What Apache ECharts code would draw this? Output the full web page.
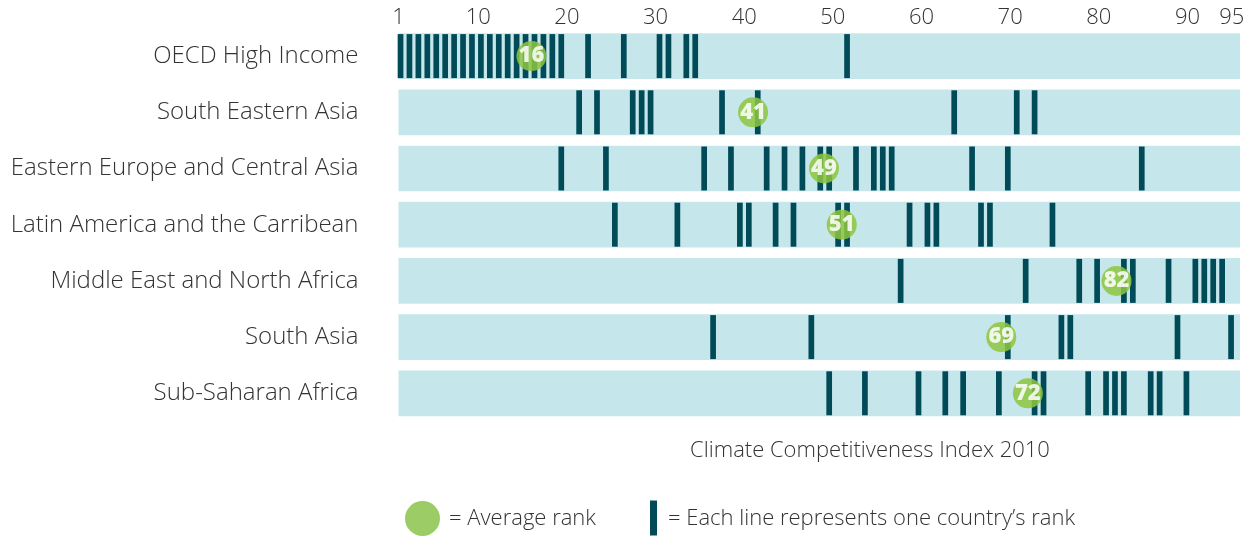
<!DOCTYPE html>
<html>
<head>
<meta charset="utf-8">
<script src="https://cdn.jsdelivr.net/npm/echarts@6/dist/echarts.min.js"></script>
<style>
html,body{margin:0;padding:0;background:#fff;}
#chart{width:1249px;height:536px;}
</style>
</head>
<body>
<div id="chart"></div>
<script>
const categories = [
  "OECD High Income",
  "South Eastern Asia",
  "Eastern Europe and Central Asia",
  "Latin America and the Carribean",
  "Middle East and North Africa",
  "South Asia",
  "Sub-Saharan Africa"
];
const oecdRanks = [1,2,3,4,5,6,7,8,9,10,11,12,13,14,15,16,17,18,19,22,26,30,31,33,34,51];
const seAsiaRanks = [21,23,27,28,29,37,41,63,70,72];
const eeCaRanks = [19,24,35,38,42,44,46,48,49,52,54,55,56,65,69,84];
const latAmRanks = [25,32,39,40,43,45,50,51,58,60,61,66,67,74];
const menaRanks = [57,71,77,79,82,83,87,90,91,92,93];
const southAsiaRanks = [36,47,69,75,76,88,94];
const ssaRanks = [49,53,59,62,64,68,72,73,78,80,81,82,85,86,89];
const averageRanks = [16,41,49,51,82,69,72];
const tickLabels = [1,10,20,30,40,50,60,70,80,90,95];
const axisTitle = "Climate Competitiveness Index 2010";
const legendAverage = "= Average rank";
const legendCountry = "= Each line represents one country\u2019s rank";

const rankLists = [oecdRanks, seAsiaRanks, eeCaRanks, latAmRanks, menaRanks, southAsiaRanks, ssaRanks];
const rankData = [];
rankLists.forEach((list, i) => list.forEach(r => rankData.push([r, categories[i]])));
const avgData = averageRanks.map((v, i) => [v, categories[i]]);
const bgData = categories.map(c => [0, c]);

const FONT = "'Open Sans', 'DejaVu Sans', sans-serif";
const TEXT = '#333333';
const LIGHT = 300;

const chart = echarts.init(document.getElementById('chart'));
chart.setOption({
  animation: false,
  grid: {left: 398.5, right: 9, top: 28, bottom: 114.6, containLabel: false},
  xAxis: [
    {
      type: 'value', position: 'top', min: 1, max: 95.93,
      axisLine: {show: false}, axisTick: {show: false}, splitLine: {show: false},
      axisLabel: {customValues: tickLabels, fontSize: 22, fontWeight: LIGHT, color: TEXT, fontFamily: FONT, margin: 10, verticalAlign: 'middle'}
    },
    {
      type: 'value', position: 'bottom', min: 0.773, max: 95.0,
      axisLine: {show: false}, axisTick: {show: false}, splitLine: {show: false}, axisLabel: {show: false}
    }
  ],
  yAxis: {
    type: 'category', data: categories, inverse: true,
    axisLine: {show: false}, axisTick: {show: false}, splitLine: {show: false},
    axisLabel: {fontSize: 24, fontWeight: LIGHT, color: TEXT, fontFamily: FONT, margin: 40}
  },
  series: [
    {
      type: 'custom', xAxisIndex: 1, data: bgData, clip: false, z: 1,
      renderItem: function (params, api) {
        const cy = api.coord([api.value(0), api.value(1)])[1];
        const band = api.size([0, 1])[1];
        const h = band * 0.813;
        return {type: 'rect', shape: {x: params.coordSys.x, y: cy - h / 2, width: params.coordSys.width, height: h}, style: {fill: '#c5e7ec'}};
      }
    },
    {
      name: 'Country rank', type: 'scatter', xAxisIndex: 1, data: rankData, z: 3,
      symbol: 'rect', symbolSize: [5.7, 44],
      itemStyle: {color: '#004b57', opacity: 1}
    },
    {
      name: 'Average rank', type: 'scatter', xAxisIndex: 0, data: avgData, z: 5,
      symbol: 'circle', symbolSize: 30,
      itemStyle: {color: '#8dc63f', opacity: 0.85},
      label: {show: true, position: 'inside', formatter: p => String(p.value[0]), color: '#ffffff', fontWeight: 800, fontSize: 22, fontFamily: FONT}
    }
  ],
  graphic: [
    {type: 'text', x: 870, y: 451, style: {text: axisTitle, fontSize: 22, fontWeight: LIGHT, fill: TEXT, fontFamily: FONT, textAlign: 'center', textVerticalAlign: 'middle'}},
    {type: 'circle', shape: {cx: 422.5, cy: 518.5, r: 17.5}, style: {fill: '#9ccc65'}},
    {type: 'text', x: 449, y: 518.5, style: {text: legendAverage, fontSize: 22, fontWeight: LIGHT, fill: TEXT, fontFamily: FONT, textVerticalAlign: 'middle'}},
    {type: 'rect', shape: {x: 650, y: 500.5, width: 7, height: 35}, style: {fill: '#004b57'}},
    {type: 'text', x: 668, y: 518.5, style: {text: legendCountry, fontSize: 22, fontWeight: LIGHT, fill: TEXT, fontFamily: FONT, textVerticalAlign: 'middle'}}
  ]
});
</script>
</body>
</html>
